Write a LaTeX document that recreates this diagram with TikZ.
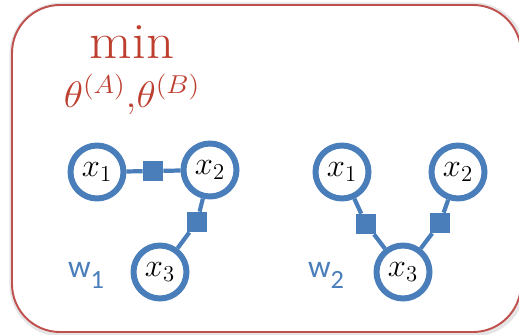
\RequirePackage{fix-cm}
\documentclass[tikz,border=0pt]{standalone}
\usepackage{fontspec}
\newfontfamily\labelfont{Carlito}
\usetikzlibrary{positioning}
\definecolor{boxred}{RGB}{192,80,77}
\definecolor{minred}{RGB}{190,62,48}
\definecolor{nodeblue}{RGB}{74,126,187}

\begin{document}
\begin{tikzpicture}[x=0.02cm,y=-0.02cm,
    var/.style={circle,draw=nodeblue,line width=3.4pt,fill=white,minimum size=1.06cm,inner sep=0pt,font=\fontsize{18.5}{20}\selectfont},
    fac/.style={rectangle,fill=nodeblue,minimum size=0.4cm,inner sep=0pt},
    link/.style={draw=nodeblue,line width=2.4pt},
    wlabel/.style={text=nodeblue,font=\labelfont\fontsize{18}{20}\selectfont}]
    \useasboundingbox (0,0) rectangle (519,334);

    % frame
    \draw[black!10,line width=4pt,rounded corners=0.96cm] (13,6) rectangle (522,333);
    \draw[boxred,line width=1.1pt,fill=white,rounded corners=0.96cm] (12,5) rectangle (521,332);

    \node[text=minred,font=\fontsize{29}{32}\selectfont,xscale=1.08,transform shape] (min) at (132,71)
        {$\mathop{\mathrm{min}}\limits_{\hbox{\fontsize{21}{24}\selectfont\rule{0pt}{26pt}$\theta^{(A)}{,}\theta^{(B)}$}}$};

    % w_1
    \node[var] (a1) at (97,172) {$x_1$};
    \node[var] (a2) at (210,170) {$x_2$};
    \node[var] (a3) at (160,272) {$x_3$};
    \node[fac] (fa12) at (153,171) {};
    \node[fac] (fa23) at (197,222) {};
    \node[wlabel] (w1) at (86,275) {w\raisebox{-0.35em}{\fontsize{15}{15}\selectfont 1}};

    % w_2
    \node[var] (b1) at (342,172) {$x_1$};
    \node[var] (b2) at (458,172) {$x_2$};
    \node[var] (b3) at (403,272) {$x_3$};
    \node[fac] (fb13) at (366,224) {};
    \node[fac] (fb23) at (440,223) {};
    \node[wlabel] (w2) at (326,275) {w\raisebox{-0.35em}{\fontsize{15}{15}\selectfont 2}};

    \draw[link] (a1) -- (fa12) -- (a2);
    \draw[link] (a2) -- (fa23) -- (a3);
    \draw[link] (b1) -- (fb13) -- (b3);
    \draw[link] (b2) -- (fb23) -- (b3);

\end{tikzpicture}
\end{document}
